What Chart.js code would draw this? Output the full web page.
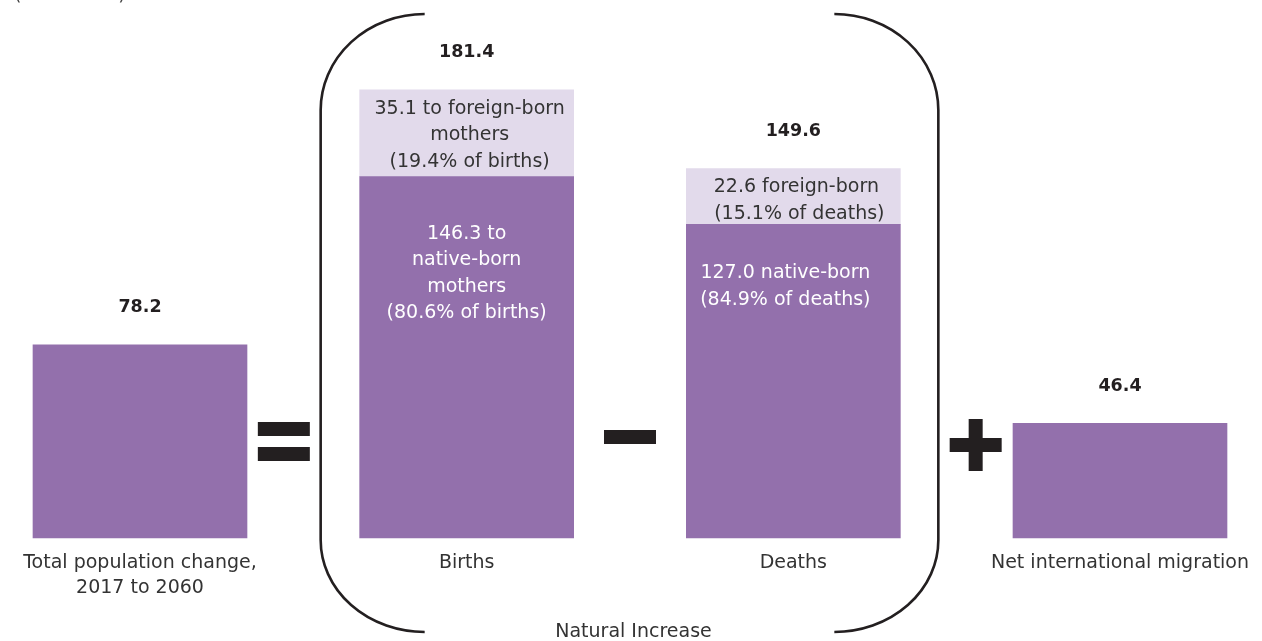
<!DOCTYPE html>
<html>
<head>
<meta charset="utf-8">
<script src="https://cdn.jsdelivr.net/npm/chart.js@4.4.1/dist/chart.umd.min.js"></script>
<style>
  html, body { margin: 0; padding: 0; background: #fff; }
  #wrap { width: 1262px; height: 641px; position: relative; }
</style>
</head>
<body>
<div id="wrap"><canvas id="myChart"></canvas></div>
<script>
const categories = [
  ["Total population change,", "2017 to 2060"],
  ["Births"],
  ["Deaths"],
  ["Net international migration"],
];
const totalLabels = ["78.2", "181.4", "149.6", "46.4"];
const nativeValues = [78.2, 146.3, 127.0, 46.4];
const foreignValues = [null, 35.1, 22.6, null];
const nativeNotes = [
  [],
  ["146.3 to", "native-born", "mothers", "(80.6% of births)"],
  ["127.0 native-born", "(84.9% of deaths)"],
  [],
];
const foreignNotes = [
  [],
  ["35.1 to foreign-born", "mothers", "(19.4% of births)"],
  ["22.6 foreign-born", " (15.1% of deaths)"],
  [],
];
const unitNote = "(In millions)";
const bracketLabel = "Natural Increase";

const DARK = "#9370ac";
const LIGHT = "#e2daeb";
const INK = "#231f20";
const FONT = "'DejaVu Sans', sans-serif";
const TEXT = "19px " + FONT;

// where the inner notes start below each segment top, and a small x nudge
const nativeNoteTop = [0, 57, 49, 0];
const nativeNoteDx = [0, 0, -8, 0];

function lines(ctx, arr, x, y, lh) {
  arr.forEach((t, k) => ctx.fillText(t, x, y + k * lh));
}

const overlay = {
  id: "overlay",
  afterDatasetsDraw(chart) {
    const ctx = chart.ctx;
    const nat = chart.getDatasetMeta(0).data;
    const frn = chart.getDatasetMeta(1).data;
    const bottom = chart.scales.y.getPixelForValue(0);
    ctx.save();
    ctx.textAlign = "center";
    ctx.textBaseline = "middle";

    nat.forEach((bar, i) => {
      let top = bar.y;
      // light segment notes
      if (foreignValues[i] != null) {
        const fb = frn[i];
        top = fb.y;
        ctx.fillStyle = "#333";
        ctx.font = TEXT;
        lines(ctx, foreignNotes[i], bar.x + 3, fb.y + 19, 26.5);
      }
      // dark segment notes
      ctx.fillStyle = "#fff";
      ctx.font = TEXT;
      lines(ctx, nativeNotes[i], bar.x + nativeNoteDx[i], bar.y + nativeNoteTop[i], 26.5);

      // totals
      ctx.fillStyle = INK;
      ctx.font = "bold 17.5px " + FONT;
      ctx.fillText(totalLabels[i], bar.x, top - 37);

      // category labels
      ctx.fillStyle = "#333";
      ctx.font = TEXT;
      lines(ctx, categories[i], bar.x, bottom + 25, 25);
    });

    const b0 = nat[0], b1 = nat[1], b2 = nat[2], b3 = nat[3];
    const leftV = b1.x - b1.width / 2 - 39;
    const rightV = b2.x + b2.width / 2 + 38;

    // brackets
    ctx.strokeStyle = INK;
    ctx.lineWidth = 2.6;
    const le = leftV + 104, re = rightV - 104;
    ctx.beginPath();
    ctx.moveTo(le, 14);
    ctx.ellipse(le, 110, 104, 96, 0, -Math.PI / 2, -Math.PI, true);
    ctx.lineTo(leftV, 540);
    ctx.ellipse(le, 540, 104, 92, 0, Math.PI, Math.PI / 2, true);
    ctx.stroke();
    ctx.beginPath();
    ctx.moveTo(re, 14);
    ctx.ellipse(re, 110, 104, 96, 0, -Math.PI / 2, 0, false);
    ctx.lineTo(rightV, 540);
    ctx.ellipse(re, 540, 104, 92, 0, 0, Math.PI / 2, false);
    ctx.stroke();

    ctx.fillStyle = "#333";
    ctx.font = TEXT;
    ctx.fillText(bracketLabel, (leftV + rightV) / 2 + 4, 632);

    // operators
    ctx.fillStyle = INK;
    const eqX = (b0.x + b0.width / 2 + leftV) / 2;
    ctx.fillRect(eqX - 26, bottom - 116, 52, 14);
    ctx.fillRect(eqX - 26, bottom - 91, 52, 14);
    const minX = (b1.x + b1.width / 2 + b2.x - b2.width / 2) / 2;
    ctx.fillRect(minX - 26, bottom - 108, 52, 14);
    const plX = (rightV + b3.x - b3.width / 2) / 2;
    ctx.fillRect(plX - 7, bottom - 119, 14, 52);
    ctx.fillRect(plX - 26, bottom - 100, 52, 14);

    // unit note, cut off at the top edge like the source
    ctx.fillStyle = "#444";
    ctx.textAlign = "left";
    ctx.textBaseline = "alphabetic";
    ctx.font = TEXT;
    ctx.fillText(unitNote, 14, 0);
    ctx.restore();
  },
};

const data = {
  labels: categories,
  datasets: [
    {
      label: "Native-born",
      data: nativeValues,
      backgroundColor: DARK,
      barThickness: 214,
      clip: false,
    },
    {
      label: "Foreign-born",
      data: foreignValues,
      backgroundColor: LIGHT,
      barThickness: 214,
      clip: false,
    },
  ],
};

const config = {
  type: "bar",
  data: data,
  plugins: [overlay],
  options: {
    responsive: true,
    maintainAspectRatio: false,
    animation: false,
    layout: { padding: { left: 140, right: 142, top: 44, bottom: 103 } },
    plugins: {
      legend: { display: false },
      tooltip: { enabled: false },
    },
    scales: {
      x: { stacked: true, offset: false, display: false },
      y: { stacked: true, min: 0, max: 200, display: false },
    },
  },
};

const myChart = new Chart(document.getElementById("myChart").getContext("2d"), config);
</script>
</body>
</html>
